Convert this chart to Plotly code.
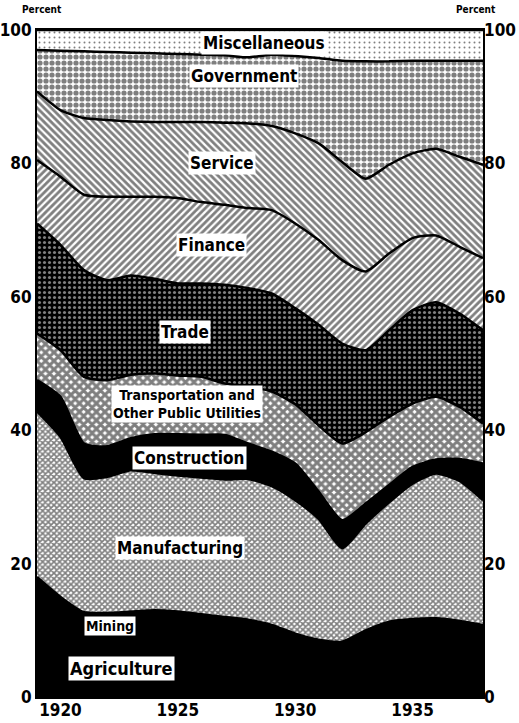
import plotly.graph_objects as go

years = list(range(1919, 1939))

# shares of national income by industry, percent
agriculture = [15.1, 11.6, 10.2, 10.2, 9.8, 10.4, 10.2, 9.6, 9.5, 9.4, 8.5, 7.5, 6.9, 6.7, 8.1, 9.1, 9.5, 9.4, 8.9, 8.5]
mining = [2.9, 3.4, 2.5, 2.4, 3.0, 2.6, 2.6, 2.8, 2.5, 2.2, 2.3, 2.0, 1.7, 1.6, 1.9, 2.2, 2.2, 2.4, 2.5, 2.3]
manufacturing = [24.8, 24.0, 20.1, 20.4, 21.2, 20.6, 20.4, 20.5, 20.6, 21.1, 20.8, 20.0, 18.1, 14.0, 16.0, 17.9, 20.3, 21.7, 21.0, 18.7]
construction = [4.7, 6.0, 5.2, 4.6, 4.8, 5.8, 6.2, 6.4, 6.7, 5.3, 5.2, 5.5, 4.1, 4.2, 3.0, 2.6, 2.5, 2.1, 3.3, 5.5]
transportation = [7.0, 7.0, 10.0, 9.9, 9.5, 9.1, 8.8, 8.7, 7.7, 8.5, 9.0, 8.9, 9.9, 11.5, 10.7, 10.2, 9.5, 9.4, 7.8, 6.0]
trade = [16.5, 15.8, 16.0, 15.0, 14.9, 14.2, 13.8, 14.0, 14.8, 14.8, 14.7, 14.4, 15.1, 15.0, 12.3, 13.0, 14.0, 14.2, 14.0, 14.0]
finance = [9.5, 10.2, 11.3, 12.5, 11.8, 12.3, 12.8, 12.2, 12.0, 12.0, 12.5, 12.7, 12.7, 12.5, 11.8, 11.5, 10.8, 10.0, 10.0, 10.8]
service = [10.3, 10.0, 11.5, 11.5, 11.3, 11.2, 11.4, 12.0, 12.3, 12.7, 12.6, 13.5, 14.5, 14.7, 13.9, 13.3, 12.7, 13.0, 13.5, 14.0]
government = [6.2, 8.9, 10.0, 10.2, 10.3, 10.3, 10.2, 10.1, 10.1, 9.9, 10.7, 11.6, 12.8, 15.2, 17.6, 15.5, 13.9, 13.2, 14.4, 15.6]
miscellaneous = [3.0, 3.1, 3.2, 3.3, 3.4, 3.5, 3.6, 3.7, 3.8, 4.1, 3.7, 3.9, 4.2, 4.6, 4.7, 4.7, 4.6, 4.6, 4.6, 4.6]

FONT = "DejaVu Sans Condensed"

# (name, values, pattern)
layers = [
    ("Agriculture", agriculture, dict(shape="", bgcolor="black")),
    ("Mining", mining, dict(shape="", bgcolor="black")),
    ("Manufacturing", manufacturing, dict(shape="x", size=4, solidity=0.65, fgcolor="black", bgcolor="white")),
    ("Construction", construction, dict(shape="", bgcolor="black")),
    ("Transportation", transportation, dict(shape="x", size=6, solidity=0.75, fgcolor="black", bgcolor="white")),
    ("Trade", trade, dict(shape=".", size=5, solidity=0.3, fgcolor="white", bgcolor="black")),
    ("Finance", finance, dict(shape="/", size=5, solidity=0.55, fgcolor="black", bgcolor="white")),
    ("Service", service, dict(shape="\\", size=5, solidity=0.55, fgcolor="black", bgcolor="white")),
    ("Government", government, dict(shape=".", size=6, solidity=0.6, fgcolor="black", bgcolor="white")),
    ("Miscellaneous", miscellaneous, dict(shape=".", size=5, solidity=0.12, fgcolor="black", bgcolor="white")),
]

fig = go.Figure()
for name, vals, pat in layers:
    fig.add_trace(go.Scatter(
        x=years, y=vals, name=name, mode="lines",
        stackgroup="one", line=dict(color="black", width=2.5, shape="spline", smoothing=0.6),
        fillcolor="black" if pat["shape"] == "" else "white",
        fillpattern=pat, hoverinfo="skip", showlegend=False,
    ))

# invisible trace so the right-hand axis is drawn
fig.add_trace(go.Scatter(x=[years[0]], y=[0], yaxis="y2", mode="markers",
                         marker=dict(opacity=0), hoverinfo="skip", showlegend=False))

labels = [
    ("Miscellaneous", 1928.65, 98.0, 17),
    ("Government", 1927.8, 93.1, 17),
    ("Service", 1926.9, 80.1, 17),
    ("Finance", 1926.45, 67.8, 17),
    ("Trade", 1925.3, 54.7, 17),
    ("Transportation and<br>Other Public Utilities", 1925.4, 44.0, 14),
    ("Construction", 1925.5, 35.8, 17),
    ("Manufacturing", 1925.1, 22.3, 17),
    ("Mining", 1922.1, 10.6, 14),
    ("Agriculture", 1922.6, 4.3, 18),
]
for text, x, y, size in labels:
    fig.add_annotation(x=x, y=y, text=text, showarrow=False, bgcolor="white",
                       borderpad=1, font=dict(family=FONT, size=size, color="black", weight="bold"))

for px in [-0.038, 1.033]:
    fig.add_annotation(x=px, y=1.03, xref="paper", yref="paper", yanchor="middle", text="Percent",
                       showarrow=False, font=dict(family=FONT, size=10, color="black", weight="bold"))

tickfont = dict(family=FONT, size=17, color="black", weight="bold")
fig.update_layout(
    width=519, height=723,
    margin=dict(l=37, r=36, t=30, b=26),
    plot_bgcolor="white", paper_bgcolor="white",
    xaxis=dict(range=[1919, 1938], tickvals=[1920, 1925, 1930, 1935], showgrid=False,
               zeroline=False, showline=True, mirror=True, linecolor="black", linewidth=2,
               ticks="", ticklabelstandoff=-3, tickfont=tickfont, automargin=False),
    yaxis=dict(range=[0, 100], tickvals=[0, 20, 40, 60, 80, 100], showgrid=False,
               zeroline=False, showline=True, mirror=True, linecolor="black", linewidth=2,
               ticks="", ticklabelstandoff=0, tickfont=tickfont, automargin=False),
    yaxis2=dict(range=[0, 100], tickvals=[0, 20, 40, 60, 80, 100], overlaying="y", side="right",
                showgrid=False, zeroline=False, showline=False, ticks="", ticklabelstandoff=0,
                tickfont=tickfont, automargin=False),
)

# drop the page's default body margin so the figure sits at the window corner
fig.write_html("out.html", config={"displayModeBar": False},
               post_script="document.body.style.margin='0px';")
